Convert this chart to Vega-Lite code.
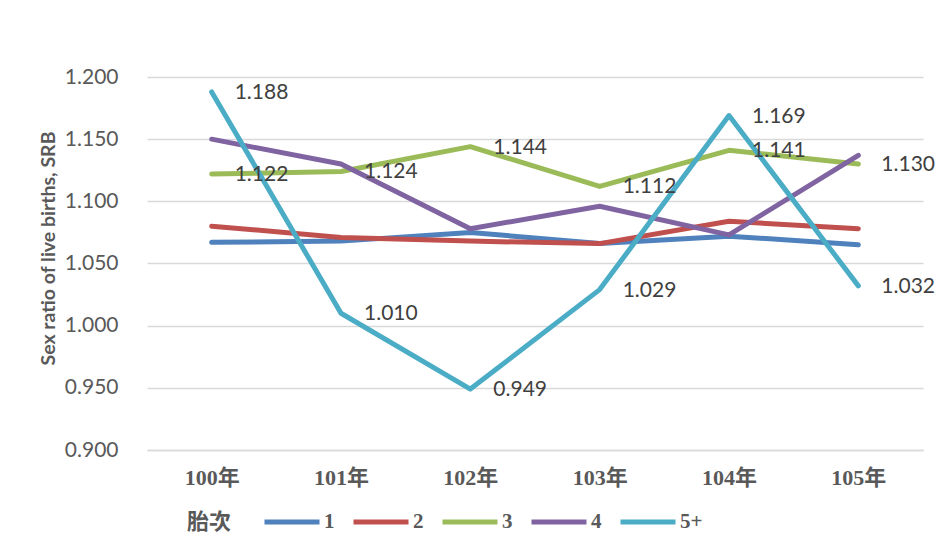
{
  "$schema": "https://vega.github.io/schema/vega-lite/v6.json",
  "width": 776,
  "height": 373,
  "autosize": {"type": "none"},
  "padding": {"left": 147, "top": 77, "right": 20, "bottom": 105},
  "background": "white",
  "config": {"view": {"stroke": null}},
  "data": {
    "values": [
      {"year": "100年", "order": "1", "srb": 1.067},
      {"year": "101年", "order": "1", "srb": 1.068},
      {"year": "102年", "order": "1", "srb": 1.075},
      {"year": "103年", "order": "1", "srb": 1.066},
      {"year": "104年", "order": "1", "srb": 1.072},
      {"year": "105年", "order": "1", "srb": 1.065},
      {"year": "100年", "order": "2", "srb": 1.080},
      {"year": "101年", "order": "2", "srb": 1.071},
      {"year": "102年", "order": "2", "srb": 1.068},
      {"year": "103年", "order": "2", "srb": 1.066},
      {"year": "104年", "order": "2", "srb": 1.084},
      {"year": "105年", "order": "2", "srb": 1.078},
      {"year": "100年", "order": "3", "srb": 1.122},
      {"year": "101年", "order": "3", "srb": 1.124},
      {"year": "102年", "order": "3", "srb": 1.144},
      {"year": "103年", "order": "3", "srb": 1.112},
      {"year": "104年", "order": "3", "srb": 1.141},
      {"year": "105年", "order": "3", "srb": 1.130},
      {"year": "100年", "order": "4", "srb": 1.150},
      {"year": "101年", "order": "4", "srb": 1.130},
      {"year": "102年", "order": "4", "srb": 1.078},
      {"year": "103年", "order": "4", "srb": 1.096},
      {"year": "104年", "order": "4", "srb": 1.073},
      {"year": "105年", "order": "4", "srb": 1.137},
      {"year": "100年", "order": "5+", "srb": 1.188},
      {"year": "101年", "order": "5+", "srb": 1.010},
      {"year": "102年", "order": "5+", "srb": 0.949},
      {"year": "103年", "order": "5+", "srb": 1.029},
      {"year": "104年", "order": "5+", "srb": 1.169},
      {"year": "105年", "order": "5+", "srb": 1.032}
    ]
  },
  "encoding": {
    "x": {
      "field": "year",
      "type": "ordinal",
      "sort": null,
      "scale": {"type": "point", "padding": 0.5},
      "axis": {
        "title": null,
        "labelAngle": 0,
        "domain": true,
        "domainColor": "#d9d9d9",
        "domainWidth": 1.5,
        "ticks": false,
        "grid": false,
        "labelFont": "Liberation Serif, Noto Sans CJK TC",
        "labelFontWeight": "bold",
        "labelFontSize": 22,
        "labelColor": "#595959",
        "labelPadding": 17
      }
    },
    "y": {
      "field": "srb",
      "type": "quantitative",
      "scale": {"domain": [0.9, 1.2], "zero": false, "nice": false},
      "axis": {
        "values": [0.9, 0.95, 1.0, 1.05, 1.1, 1.15, 1.2],
        "format": ".3f",
        "domain": false,
        "ticks": false,
        "grid": true,
        "gridColor": "#d9d9d9",
        "gridWidth": 1.5,
        "labelFont": "Lato",
        "labelFontSize": 21,
        "labelColor": "#595959",
        "labelPadding": 29,
        "title": "Sex ratio of live births, SRB",
        "titleFont": "Lato",
        "titleFontSize": 19.5,
        "titleFontWeight": "bold",
        "titleColor": "#595959",
        "titleAngle": 270,
        "titleAlign": "center",
        "titleBaseline": "middle",
        "titleX": -99,
        "titleY": 171
      }
    }
  },
  "layer": [
    {
      "mark": {"type": "line", "strokeWidth": 5, "strokeCap": "round", "strokeJoin": "round"},
      "encoding": {
        "color": {
          "field": "order",
          "type": "nominal",
          "scale": {
            "domain": ["1", "2", "3", "4", "5+"],
            "range": ["#4f81bd", "#c0504d", "#9bbb59", "#8064a2", "#4bacc6"]
          },
          "legend": {
            "orient": "none",
            "legendX": 40,
            "legendY": 415,
            "direction": "horizontal",
            "title": "胎次",
            "titleOrient": "left",
            "titleBaseline": "top",
            "titleFont": "Noto Sans CJK TC",
            "titleFontSize": 22,
            "titleFontWeight": "bold",
            "titleColor": "#595959",
            "titlePadding": 30,
            "labelFont": "Liberation Serif",
            "labelFontSize": 21,
            "labelFontWeight": "bold",
            "labelColor": "#595959",
            "labelOffset": 2,
            "symbolType": "stroke",
            "symbolSize": 3025,
            "symbolStrokeWidth": 5,
            "columnPadding": 8
          }
        }
      }
    },
    {
      "transform": [{"filter": "datum.order === '3' || datum.order === '5+'"}],
      "mark": {
        "type": "text",
        "align": "left",
        "baseline": "middle",
        "dx": 23,
        "dy": 1,
        "font": "Lato",
        "fontSize": 21,
        "color": "#404040"
      },
      "encoding": {
        "text": {"field": "srb", "type": "quantitative", "format": ".3f"}
      }
    }
  ]
}
